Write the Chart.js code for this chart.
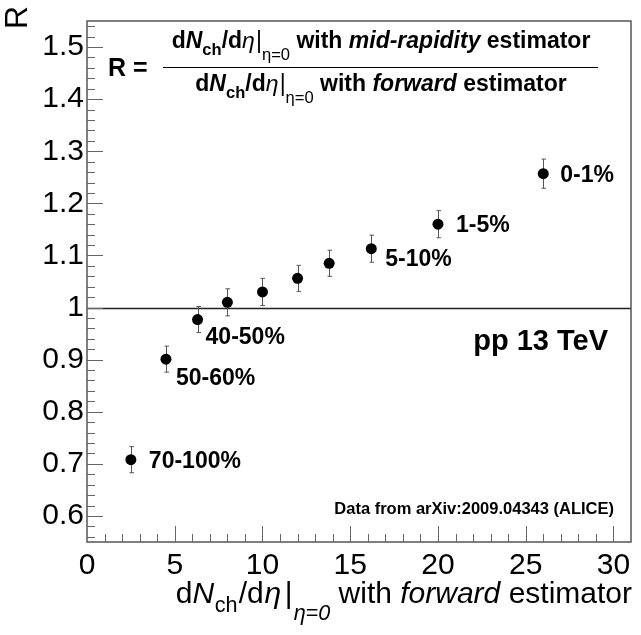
<!DOCTYPE html>
<html>
<head>
<meta charset="utf-8">
<script src="https://cdn.jsdelivr.net/npm/chart.js@4/dist/chart.umd.min.js"></script>
<style>
  html, body { margin: 0; padding: 0; background: #fff; }
  canvas { display: block; }
</style>
</head>
<body>
<canvas id="chart" width="641" height="635"></canvas>
<script>
// values
var multX = [2.5, 4.5, 6.3, 8.0, 10.0, 12.0, 13.8, 16.2, 20.0, 26.0];
var ratioR = [0.708, 0.901, 0.977, 1.010, 1.030, 1.056, 1.085, 1.113, 1.160, 1.257];
var ratioErr = [0.025, 0.025, 0.025, 0.026, 0.026, 0.025, 0.025, 0.026, 0.026, 0.028];
var centLabels = ['70-100%', '50-60%', '40-50%', '', '', '', '', '5-10%', '1-5%', '0-1%'];
var xTicks = [0, 5, 10, 15, 20, 25, 30];
var yTicks = [0.6, 0.7, 0.8, 0.9, 1.0, 1.1, 1.2, 1.3, 1.4, 1.5];

var FONT = '"Liberation Sans", Arial, Helvetica, sans-serif';

// where each centrality label sits relative to its point (pixels)
var labelOffset = {
    0: [18, 2], 1: [10, 20], 2: [8, 18], 7: [14, 11], 8: [18, 1], 9: [17, 2]
};

function drawRuns(ctx, runs, x, y, size, align){
    // runs: [text, style, sub, gapBefore]  style: 'b','bi','i','n'
    var total = 0;
    var parts = runs.map(function(r){
        var s = r[2] ? size * 0.72 : size;
        var st = r[1];
        var f = (st.indexOf('i') >= 0 ? 'italic ' : '') + (st.indexOf('b') >= 0 ? 'bold ' : '') + s + 'px ' + FONT;
        ctx.font = f;
        var gap = (r[3] || 0) * size;
        var w = ctx.measureText(r[0]).width;
        total += w + gap;
        return {t: r[0], f: f, w: w, gap: gap, dy: r[2] || 0};
    });
    var cx = x;
    if(align == 'center') cx = x - total / 2;
    if(align == 'right') cx = x - total;
    ctx.textAlign = 'left';
    ctx.textBaseline = 'alphabetic';
    parts.forEach(function(p){
        cx += p.gap;
        ctx.font = p.f;
        ctx.fillText(p.t, cx, y + p.dy * size);
        cx += p.w;
    });
    return total;
}

var rootStyle = {
    id: 'rootStyle',
    beforeDatasetsDraw: function(chart){
        var ctx = chart.ctx, xs = chart.scales.x, ys = chart.scales.y, a = chart.chartArea;
        ctx.save();
        // reference line at R = 1
        ctx.strokeStyle = '#222';
        ctx.lineWidth = 1.3;
        var y1 = Math.round(ys.getPixelForValue(1)) + 0.5;
        ctx.beginPath();
        ctx.moveTo(a.left, y1);
        ctx.lineTo(a.right, y1);
        ctx.stroke();
        // error bars
        ctx.strokeStyle = '#555';
        ctx.lineWidth = 1;
        for(var i = 0; i < multX.length; i++){
            var px = Math.round(xs.getPixelForValue(multX[i])) + 0.5;
            var top = ys.getPixelForValue(ratioR[i] + ratioErr[i]);
            var bot = ys.getPixelForValue(ratioR[i] - ratioErr[i]);
            ctx.beginPath();
            ctx.moveTo(px, top); ctx.lineTo(px, bot);
            ctx.moveTo(px - 2, top); ctx.lineTo(px + 2.5, top);
            ctx.moveTo(px - 2, bot); ctx.lineTo(px + 2.5, bot);
            ctx.stroke();
        }
        ctx.restore();
    },
    afterDraw: function(chart){
        var ctx = chart.ctx, xs = chart.scales.x, ys = chart.scales.y, a = chart.chartArea;
        ctx.save();
        // frame
        ctx.strokeStyle = '#555';
        ctx.lineWidth = 1.5;
        ctx.strokeRect(a.left, a.top, a.right - a.left, a.bottom - a.top);
        // inward ticks
        ctx.lineWidth = 1;
        ctx.strokeStyle = '#666';
        ctx.beginPath();
        var v, p;
        for(v = 56; v <= 154; v += 2){
            p = Math.round(ys.getPixelForValue(v / 100)) + 0.5;
            ctx.moveTo(a.left, p);
            ctx.lineTo(a.left + (v % 10 == 0 ? 16 : 8), p);
        }
        for(v = 1; v <= 30; v++){
            p = Math.round(xs.getPixelForValue(v)) + 0.5;
            ctx.moveTo(p, a.bottom);
            ctx.lineTo(p, a.bottom - (v % 5 == 0 ? 16 : 8));
        }
        ctx.stroke();

        ctx.fillStyle = '#000';
        // centrality labels
        ctx.font = 'bold 23px ' + FONT;
        ctx.textAlign = 'left';
        ctx.textBaseline = 'middle';
        centLabels.forEach(function(lab, i){
            if(!lab) return;
            var o = labelOffset[i];
            ctx.fillText(lab, xs.getPixelForValue(multX[i]) + o[0], ys.getPixelForValue(ratioR[i]) + o[1]);
        });

        // pp 13 TeV
        ctx.textBaseline = 'alphabetic';
        ctx.textAlign = 'right';
        ctx.font = 'bold 29px ' + FONT;
        ctx.fillText('pp 13 TeV', 608, 350);
        ctx.font = 'bold 16.5px ' + FONT;
        ctx.fillText('Data from arXiv:2009.04343 (ALICE)', 614, 514);

        // formula
        var num = [['d', 'b'], ['N', 'bi'], ['ch', 'b', 0.3], ['/d', 'b'], ['\u03B7', 'i'], ['|', 'n', 0, 0.05], ['\u03B7=0', 'n', 0.5],
                   [' with ', 'b'], ['mid-rapidity', 'bi'], [' estimator', 'b']];
        var den = [['d', 'b'], ['N', 'bi'], ['ch', 'b', 0.3], ['/d', 'b'], ['\u03B7', 'i'], ['|', 'n', 0, 0.05], ['\u03B7=0', 'n', 0.5],
                   [' with ', 'b'], ['forward', 'bi'], [' estimator', 'b']];
        drawRuns(ctx, num, 381, 48, 23, 'center');
        drawRuns(ctx, den, 381, 91, 23, 'center');
        ctx.strokeStyle = '#000';
        ctx.lineWidth = 1.2;
        ctx.beginPath();
        ctx.moveTo(163, 67.5);
        ctx.lineTo(598, 67.5);
        ctx.stroke();
        drawRuns(ctx, [['R =', 'b']], 108, 76, 25, 'left');

        // axis titles
        var xt = [['d', 'n'], ['N', 'i'], ['ch', 'n', 0.3, 0.02], ['/', 'n', 0, 0.04], ['d', 'n'], ['\u03B7', 'i', 0, 0.02], ['|', 'n', 0, 0.12],
                  ['\u03B7=0', 'i', 0.55, 0.04], [' with ', 'n'], ['forward', 'i'], [' estimator', 'n']];
        drawRuns(ctx, xt, 632, 603, 30, 'right');
        ctx.translate(27, 6);
        ctx.rotate(-Math.PI / 2);
        ctx.font = '32px ' + FONT;
        ctx.textAlign = 'right';
        ctx.textBaseline = 'alphabetic';
        ctx.fillText('R', 0, 0);
        ctx.restore();
    }
};

var points = multX.map(function(x, i){ return {x: x, y: ratioR[i]}; });

new Chart(document.getElementById('chart'), {
    type: 'scatter',
    data: {
        datasets: [{
            data: points,
            pointRadius: 5.5,
            pointHoverRadius: 5.5,
            backgroundColor: '#000',
            borderWidth: 0
        }]
    },
    options: {
        responsive: false,
        animation: false,
        devicePixelRatio: 1,
        layout: { padding: { top: 9, right: 10, left: 0, bottom: 0 } },
        plugins: { legend: { display: false }, tooltip: { enabled: false } },
        scales: {
            x: {
                type: 'linear', min: 0, max: 31,
                grid: { display: false, drawTicks: false },
                border: { display: false },
                afterBuildTicks: function(s){ s.ticks = xTicks.map(function(v){ return {value: v}; }); },
                afterFit: function(s){ s.height = 93; },
                ticks: { color: '#000', padding: 6, maxRotation: 0, font: { family: FONT, size: 30 } }
            },
            y: {
                type: 'linear', min: 0.55, max: 1.55,
                grid: { display: false, drawTicks: false },
                border: { display: false },
                afterBuildTicks: function(s){ s.ticks = yTicks.map(function(v){ return {value: v}; }); },
                afterFit: function(s){ s.width = 87; },
                ticks: {
                    color: '#000', padding: 3, font: { family: FONT, size: 30 },
                    callback: function(v){ return String(Math.round(v * 10) / 10); }
                }
            }
        }
    },
    plugins: [rootStyle]
});
</script>
</body>
</html>
